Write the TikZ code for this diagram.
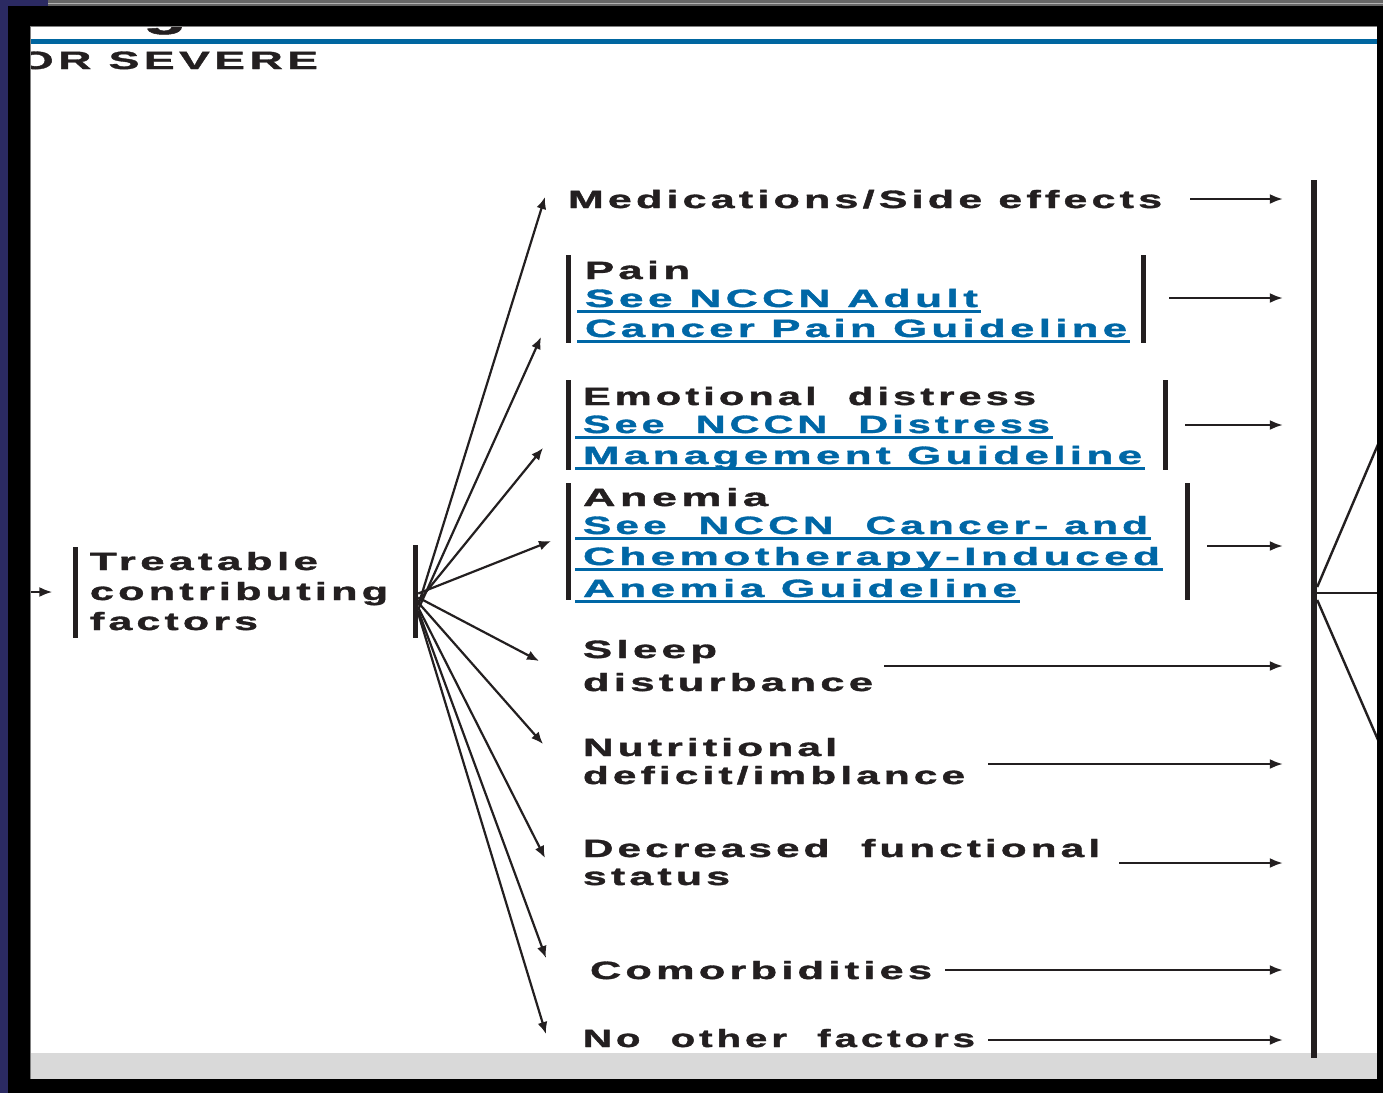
\documentclass[tikz,border=0pt]{standalone}
\usepackage{fontspec}
\usepackage{graphicx}
\usetikzlibrary{arrows.meta,calc}
\newfontfamily\wf[LetterSpace=10,FakeBold=1.2]{Liberation Sans}
\definecolor{ink}{HTML}{231F20}
\definecolor{link}{HTML}{0067A6}
\definecolor{rule}{HTML}{0066A0}
\definecolor{navy}{HTML}{2B2A62}
\definecolor{band}{HTML}{D9D9D9}
% wide, tracked sans text stretched to a given width (pt)
\newcommand\wtxt[2]{\resizebox{#1pt}{\height}{\fontsize{25pt}{30pt}\selectfont\wf\bfseries #2}}
\begin{document}
\begin{tikzpicture}[x=1pt,y=-1pt,
  txt/.style={inner sep=0pt, outer sep=0pt, text=ink, anchor=base west},
  lnk/.style={txt, text=link},
  ul/.style={draw=link, line width=3pt},
  vbar/.style={rectangle, fill=ink, draw=none, inner sep=0pt, minimum width=5pt},
  harr/.style={draw=ink, line width=2.2pt, -{Latex[length=13pt,width=10pt]}},
  farr/.style={draw=ink, line width=2.2pt, -{Latex[length=12pt,width=10pt]}},
  rline/.style={draw=ink, line width=2.4pt}]
\useasboundingbox (0,0) rectangle (1383,1093);
\fill[white] (0,0) rectangle (1383,1093);
\fill[band] (30,1053) rectangle (1377,1079);
\fill[rule] (30,39) rectangle (1377,44);

% heading fragments
\node[txt] (gfrag) at (143,26) {\resizebox{44pt}{\height}{\fontsize{40pt}{40pt}\selectfont\wf\bfseries g}};
\node[txt, anchor=base east] (sev) at (318,69) {\wtxt{300}{OR SEVERE}};

% source box
\node[vbar, minimum height=91pt] (tL) at (75,592) {};
\node[vbar, minimum height=93pt] (tR) at (415.5,591.5) {};
\node[txt] (t1) at (90,570) {\wtxt{228}{Treatable}};
\node[txt] (t2) at (90,600) {\wtxt{298}{contributing}};
\node[txt] (t3) at (90,630) {\wtxt{168}{factors}};
\coordinate (inS) at (10,592);
\draw[harr, shorten >=20pt] (inS) -- (tL.west);

% factors
\node[txt] (med) at (568,208) {\wtxt{594}{Medications/Side effects}};

\node[vbar, minimum height=88pt] (painL) at (568,299) {};
\node[vbar, minimum height=88pt] (painR) at (1143.5,299) {};
\node[txt] (pain1) at (585,279) {\wtxt{105}{Pain}};
\node[lnk] (pain2) at (585,307) {\wtxt{393}{See NCCN Adult}};
\node[lnk] (pain3) at (585,337) {\wtxt{542}{Cancer Pain Guideline}};

\node[vbar, minimum height=90pt] (emoL) at (568,425) {};
\node[vbar, minimum height=90pt] (emoR) at (1165.5,425) {};
\node[txt] (emo1) at (583,405) {\wtxt{453}{Emotional\ \ distress}};
\node[lnk] (emo2) at (583,433) {\wtxt{467}{See\ \ NCCN\ \ Distress}};
\node[lnk] (emo3) at (583,464) {\wtxt{559}{Management Guideline}};

\node[vbar, minimum height=117pt] (anL) at (568,541.5) {};
\node[vbar, minimum height=117pt] (anR) at (1187.5,541.5) {};
\node[txt] (an1) at (583,506) {\wtxt{185}{Anemia}};
\node[lnk] (an2) at (583,534) {\wtxt{565}{See\ \ NCCN\ \ Cancer-\ and}};
\node[lnk] (an3) at (583,565) {\wtxt{577}{Chemotherapy-Induced}};
\node[lnk] (an4) at (583,597) {\wtxt{434}{Anemia Guideline}};

\node[txt] (sl1) at (583,658) {\wtxt{134}{Sleep}};
\node[txt] (sl2) at (583,691) {\wtxt{290}{disturbance}};
\node[txt] (nu1) at (583,756) {\wtxt{254}{Nutritional}};
\node[txt] (nu2) at (583,784) {\wtxt{382}{deficit/imblance}};
\node[txt] (de1) at (583,857) {\wtxt{517}{Decreased\ \ functional}};
\node[txt] (de2) at (583,885) {\wtxt{147}{status}};
\node[txt] (co1) at (590,979) {\wtxt{342}{Comorbidities}};
\node[txt] (no1) at (583,1047) {\wtxt{392}{No\ \ other\ \ factors}};

\foreach \n in {pain2,pain3,emo2,emo3,an2,an3,an4}
  \draw[ul] ($(\n.base west)+(-8,4)$) -- ($(\n.base east)+(3,4)$);

% fan of arrows from the source box
\coordinate (fMed) at (545,197);
\coordinate (fPain) at (541,337);
\coordinate (fEmo) at (543,448);
\coordinate (fAn) at (551,541);
\coordinate (fSl) at (539,661);
\coordinate (fNu) at (543,744);
\coordinate (fDe) at (545,858);
\coordinate (fCo) at (546,958);
\coordinate (fNo) at (546,1034);
\draw[farr] ($(tR.east)+(0,14)$) -- (fMed);
\draw[farr] ($(tR.east)+(0,18)$) -- (fPain);
\draw[farr] ($(tR.east)+(0,10)$) -- (fEmo);
\draw[farr] ($(tR.east)+(0,2)$) -- (fAn);
\draw[farr] ($(tR.east)+(0,6)$) -- (fSl);
\draw[farr] ($(tR.east)+(0,11)$) -- (fNu);
\draw[farr] ($(tR.east)+(0,16)$) -- (fDe);
\draw[farr] ($(tR.east)+(0,19)$) -- (fCo);
\draw[farr] ($(tR.east)+(0,22)$) -- (fNo);

% collecting bar and the arrows into it
\node[vbar, minimum width=6pt, minimum height=878pt] (bigbar) at (1314,619) {};
\coordinate (aMed) at (1190,199);
\coordinate (aPain) at (1169,298);
\coordinate (aEmo) at (1185,425);
\coordinate (aAn) at (1207,546);
\coordinate (aSl) at (884,666);
\coordinate (aNu) at (988,764);
\coordinate (aDe) at (1119,863);
\coordinate (aCo) at (945,970);
\coordinate (aNo) at (988,1040);
\foreach \c in {aMed,aPain,aEmo,aAn,aSl,aNu,aDe,aCo,aNo}
  \draw[harr, shorten >=28pt] (\c) -- (bigbar.west |- \c);

% exits from the collecting bar
\coordinate (outU) at (1385,428);
\coordinate (outM) at (1385,593);
\coordinate (outD) at (1385,756);
\draw[rline] ($(bigbar.east)+(0,-32)$) -- (outU);
\draw[rline] ($(bigbar.east)+(0,-26)$) -- (outM);
\draw[rline] ($(bigbar.east)+(0,-19)$) -- (outD);

% window frame
\fill[black] (8,6) rectangle (30,1093);
\fill[black] (8,6) rectangle (1383,26);
\fill[black] (1377,6) rectangle (1383,1093);
\fill[black] (8,1079) rectangle (1383,1093);
\fill[navy] (0,0) rectangle (8,1093);
\fill[navy] (0,0) rectangle (48,6);
\fill[gray!80!black] (48,0) rectangle (1383,6);
\fill[gray!60] (48,2.5) rectangle (1383,4);
\draw[gray, line width=1pt] (30,1079) -- (30,26.5) -- (1377,26.5);
\end{tikzpicture}
\end{document}
